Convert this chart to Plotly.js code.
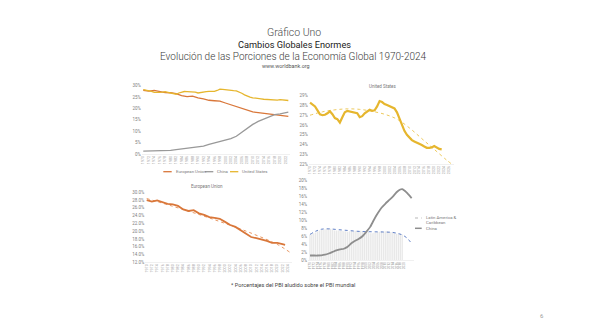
<!DOCTYPE html>
<html><head><meta charset="utf-8">
<script src="https://cdn.plot.ly/plotly-3.0.1.min.js"></script>
<style>html,body{margin:0;padding:0;background:#fff}#c{width:589px;height:331px}</style>
</head><body><div id="c"></div>
<script>
// ---- data (shares of world GDP, %) ----
const usYears = [1970,1971,1972,1973,1974,1975,1976,1977,1978,1979,1980,1981,1982,1983,1984,1985,1986,1987,1988,1989,1990,1991,1992,1993,1994,1995,1996,1997,1998,1999,2000,2001,2002,2003,2004,2005,2006,2007,2008,2009,2010,2011,2012,2013,2014,2015,2016,2017,2018,2019,2020,2021,2022,2023];
const usShare = [28.3,28.1,27.9,27.5,27.1,27.0,27.05,27.2,27.4,27.1,26.7,26.6,26.25,26.8,27.3,27.45,27.4,27.35,27.3,27.2,26.8,26.9,27.2,27.4,27.55,27.45,27.5,27.9,28.45,28.35,28.15,28.05,27.95,27.8,27.7,27.3,26.7,26.0,25.4,25.0,24.7,24.45,24.3,24.2,24.05,23.95,23.8,23.66,23.65,23.7,23.85,23.7,23.55,23.5];
const usTrendYears = [1970,1975,1980,1985,1990,1995,2000,2005,2010,2015,2020,2025,2027];
const usTrend = [27.0,27.35,27.55,27.65,27.6,27.4,27.1,26.6,25.7,24.6,23.5,22.4,22.0];

const euYears = [1970,1972,1974,1976,1978,1980,1982,1984,1986,1988,1990,1992,1994,1996,1998,2000,2002,2004,2006,2008,2010,2012,2014,2016,2018,2020,2022,2023];
const euShare = [28.0,27.6,27.9,27.4,27.0,26.9,26.5,25.6,25.2,25.4,24.6,24.2,23.6,23.4,23.2,22.4,21.6,21.1,20.3,19.4,18.5,18.2,17.9,17.5,17.0,17.0,16.7,16.5];
const euTrendYears = [1970,1980,1990,2000,2010,2020,2025];
const euTrend = [28.4,26.4,24.3,22.0,19.5,16.6,14.5];

const cnYears = [1970,1972,1974,1976,1978,1980,1982,1984,1986,1988,1990,1992,1994,1996,1998,2000,2002,2004,2006,2008,2010,2012,2014,2016,2018,2020,2022,2023];
const cnShare = [1.3,1.3,1.3,1.4,1.5,1.6,1.9,2.2,2.5,2.7,2.9,3.5,4.2,4.9,5.4,6.0,6.8,7.8,9.5,11.5,13.0,14.3,15.4,16.5,17.3,17.6,18.3,18.4];

const cn4Years = [1970,1972,1974,1976,1978,1980,1982,1984,1986,1988,1990,1992,1994,1996,1998,2000,2002,2004,2006,2008,2010,2012,2014,2016,2018,2019,2020,2021,2022,2023,2024];
const cn4Share = [1.2,1.2,1.2,1.25,1.4,1.7,2.1,2.5,2.75,2.9,3.4,4.3,4.9,5.4,6.1,7.2,8.4,10.2,11.8,13.2,14.2,15.1,16.0,17.1,17.8,17.9,17.6,17.2,16.7,16.2,15.6];

const lacYears = [1970,1971,1972,1973,1974,1975,1976,1977,1978,1979,1980,1981,1982,1983,1984,1985,1986,1987,1988,1989,1990,1991,1992,1993,1994,1995,1996,1997,1998,1999,2000,2001,2002,2003,2004,2005,2006,2007,2008,2009,2010,2011,2012,2013,2014,2015,2016,2017,2018,2019];
const lacShare = [6.4,6.6,6.8,7.0,7.3,7.5,7.6,7.7,7.8,7.9,8.0,7.9,7.7,7.5,7.5,7.5,7.4,7.4,7.3,7.3,7.2,7.3,7.3,7.3,7.4,7.3,7.3,7.4,7.3,7.1,7.2,7.1,6.8,6.8,6.9,7.0,7.1,7.2,7.3,7.1,7.3,7.3,7.2,7.1,7.0,6.8,6.7,6.7,6.6,6.5];
const lacTrendYears = [1970,1973,1976,1980,1985,1990,1995,2000,2005,2010,2014,2017,2019,2021,2022,2024];
const lacTrend = [6.5,7.3,7.8,7.9,7.7,7.5,7.3,7.2,7.15,7.1,7.0,6.7,6.4,5.8,5.4,4.2];

const names = {eu:"European Union", cn:"China", us:"United States", lac1:"Latin America &", lac2:"Caribbean"};

// ---- colours ----
const cEU = "#D9773A", cUS = "#E6B62E", cCN = "#999999", cCN4 = "#8E8E8E", cLAC = "#E8E8E8", cBlue = "#4F72C0";

function ticks(a, b){ const v=[]; for(let y=a;y<=b;y+=2) v.push(y); return v; }
const W=589, H=331;
const px = x => x/W, py = y => 1 - y/H;

const tickFont = {family:"Roboto, sans-serif", size:4.5, color:"#808080"};
function xax(dom, range, tv, fs){
  return {domain:[px(dom[0]),px(dom[1])], range:range, tickvals:tv, ticktext:tv.map(String),
    tickangle:-90, tickfont:{family:"Roboto, sans-serif", size:fs||3.6, color:"#999999"}, showgrid:false, zeroline:false,
    showline:true, linecolor:"#e6e6e6", linewidth:0.6, ticks:"", fixedrange:true};
}
function yax(dom, range, dtick, fmt, anchor){
  return {domain:[py(dom[1]),py(dom[0])], range:range, dtick:dtick, tick0:range[0], tickformat:fmt, ticksuffix:"%",
    tickfont:tickFont, showgrid:false, zeroline:false, showline:false, ticks:"", anchor:anchor, fixedrange:true};
}

const data = [
  // panel 1
  {x:euYears, y:euShare, xaxis:"x", yaxis:"y", mode:"lines", line:{color:cEU, width:1.3}, name:names.eu, showlegend:false},
  {x:cnYears, y:cnShare, xaxis:"x", yaxis:"y", mode:"lines", line:{color:cCN, width:1.3}, name:names.cn, showlegend:false},
  {x:usYears, y:usShare, xaxis:"x", yaxis:"y", mode:"lines", line:{color:cUS, width:1.3}, name:names.us, showlegend:false},
  // panel 2
  {x:usTrendYears, y:usTrend, xaxis:"x2", yaxis:"y2", mode:"lines", line:{color:"#EBC34A", width:0.9, dash:"dot", shape:"spline"}, showlegend:false},
  {x:usYears, y:usShare, xaxis:"x2", yaxis:"y2", mode:"lines", line:{color:cUS, width:2.2}, showlegend:false},
  // panel 3
  {x:euTrendYears, y:euTrend, xaxis:"x3", yaxis:"y3", mode:"lines", line:{color:"#E58A4E", width:0.9, dash:"dot", shape:"spline"}, showlegend:false},
  {x:euYears, y:euShare, xaxis:"x3", yaxis:"y3", mode:"lines", line:{color:cEU, width:1.8}, showlegend:false},
  // panel 4
  {type:"bar", x:lacYears, y:lacShare, xaxis:"x4", yaxis:"y4", marker:{color:cLAC, line:{width:0}}, showlegend:false},
  {x:lacTrendYears, y:lacTrend, xaxis:"x4", yaxis:"y4", mode:"lines", line:{color:cBlue, width:0.9, dash:"dot", shape:"spline"}, showlegend:false},
  {x:cn4Years, y:cn4Share, xaxis:"x4", yaxis:"y4", mode:"lines", line:{color:cCN4, width:1.8, shape:"spline", smoothing:0.5}, showlegend:false}
];

const txt = (t, x, y, size, color, opts={}) => Object.assign({text:t, x:px(x), y:py(y), xref:"paper", yref:"paper",
  showarrow:false, xanchor:"center", yanchor:"middle",
  font:{family:opts.family||"Roboto, sans-serif", size:size, color:color, weight:opts.weight||400}}, opts.extra||{});

const annotations = [
  txt("Gráfico Uno", 294, 32.5, 10.5, "#4a4a4a", {weight:300}),
  txt("Cambios Globales Enormes", 294.5, 44.5, 9.2, "#1a1a1a", {weight:400, family:"Roboto, sans-serif"}),
  txt("Evolución de las Porciones de la Economía Global 1970-2024", 293.5, 56.5, 10, "#3a3a3a", {weight:300}),
  txt("www.worldbank.org", 286, 66.5, 5.4, "#555555"),
  txt("United States", 382, 87, 4.5, "#7a7a7a"),
  txt("European Union", 207, 186, 4.5, "#7a7a7a"),
  txt(names.eu, 173.5, 171.7, 4.3, "#7a7a7a", {extra:{xanchor:"left"}}),
  txt(names.cn, 215, 171.7, 4.3, "#7a7a7a", {extra:{xanchor:"left"}}),
  txt(names.us, 240, 171.7, 4.3, "#7a7a7a", {extra:{xanchor:"left"}}),
  txt(names.lac1, 423.5, 217.5, 4.3, "#7a7a7a", {extra:{xanchor:"left"}}),
  txt(names.lac2, 423.5, 222.3, 4.3, "#7a7a7a", {extra:{xanchor:"left"}}),
  txt(names.cn, 423.5, 228.3, 4.3, "#7a7a7a", {extra:{xanchor:"left"}}),
  txt("* Porcentajes del PBI aludido sobre el PBI mundial", 293, 285, 5.6, "#444444"),
  txt("6", 541.7, 315, 6, "#9a9a9a")
];

const seg = (x0,x1,y,color,w,dash) => ({type:"line", xref:"paper", yref:"paper", x0:px(x0), x1:px(x1), y0:py(y), y1:py(y), line:{color:color, width:w, dash:dash||"solid"}});
const shapes = [
  seg(163.3,171.7,171.7,cEU,1.3),
  seg(205,213.3,171.7,cCN,1.3),
  seg(230,238.3,171.7,cUS,1.3),
  seg(415,421.7,218,"#d0d0d0",1.5,"dot"),
  seg(415,421.7,228.3,cCN4,1.5)
];

const layout = {
  width:W, height:H, margin:{l:0,r:0,t:0,b:0}, paper_bgcolor:"#fff", plot_bgcolor:"rgba(0,0,0,0)",
  showlegend:false, bargap:0.3,
  xaxis:  Object.assign(xax([141.9,289.7], [1969.5,2023.5], ticks(1970,2022)), {anchor:"y"}),
  yaxis:  yax([85.7,154], [0,30], 5, "d", "x"),
  xaxis2: Object.assign(xax([308.8,454.1], [1969.5,2028], ticks(1970,2026)), {anchor:"y2"}),
  yaxis2: yax([95.7,164], [22,29], 1, "d", "x2"),
  xaxis3: Object.assign(xax([145.4,291.6], [1969.5,2025.5], ticks(1970,2024)), {anchor:"y3"}),
  yaxis3: yax([192.3,262.3], [12,30], 2, ".1f", "x3"),
  xaxis4: Object.assign(xax([308.1,413.5], [1969,2025], ticks(1970,2020), 3.2), {anchor:"y4"}),
  yaxis4: yax([180.7,260.3], [0,20], 2, "d", "x4"),
  annotations:annotations, shapes:shapes
};

Plotly.newPlot("c", data, layout, {staticPlot:true, displayModeBar:false});
</script></body></html>
